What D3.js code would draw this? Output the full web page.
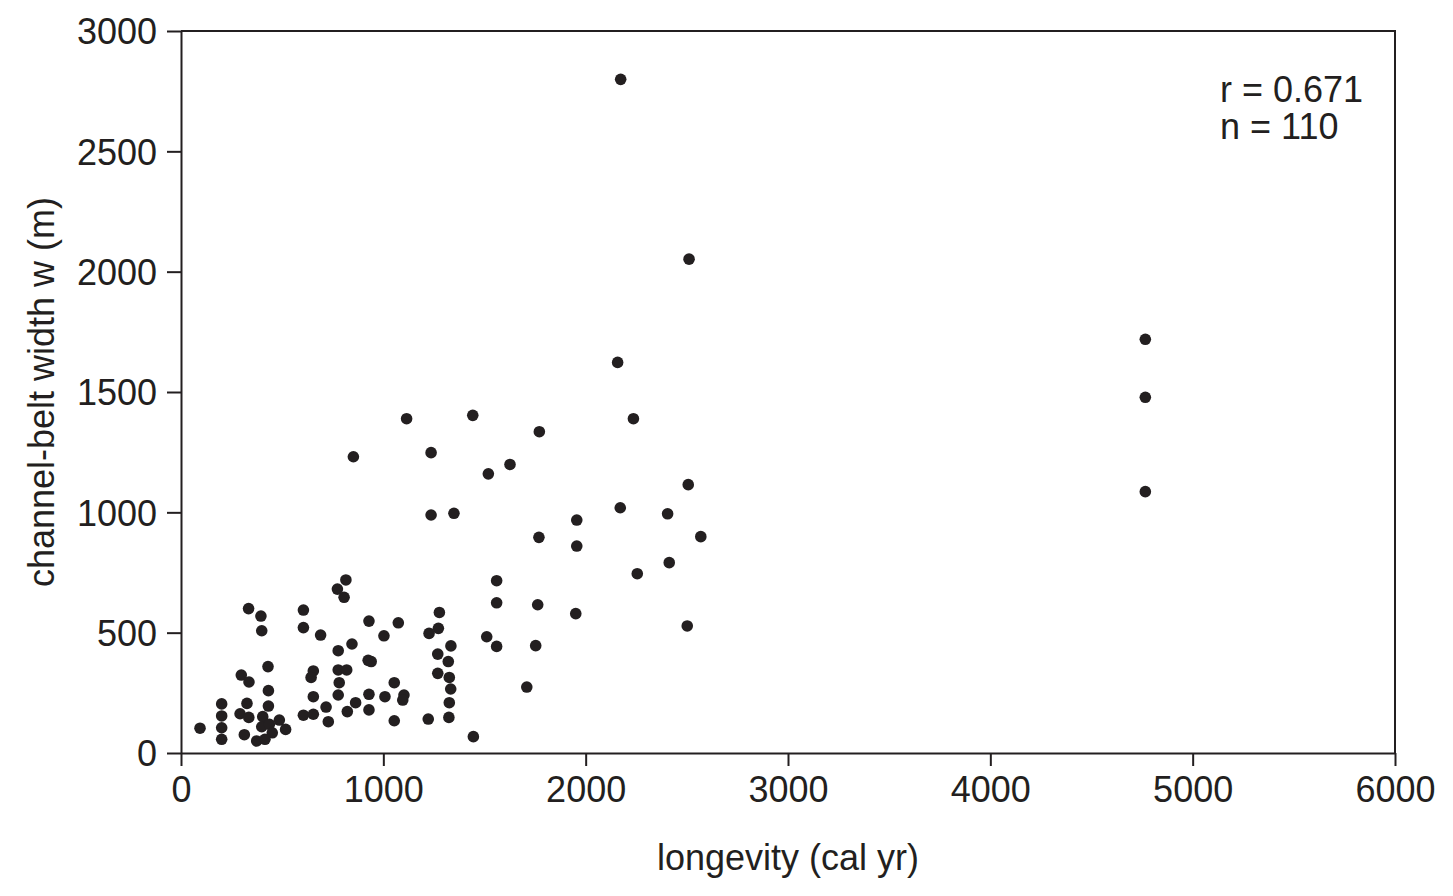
<!DOCTYPE html>
<html>
<head>
<meta charset="utf-8">
<script src="https://cdn.jsdelivr.net/npm/d3@7"></script>
<style>
  html, body { margin: 0; padding: 0; background: #fff; }
  svg { display: block; font-family: "Liberation Sans", Arial, sans-serif; }
</style>
</head>
<body>
<svg id="chart" width="1453" height="896"></svg>
<script>
// Longevity (cal yr) and channel-belt width (m) for each channel belt
const longevity = [
  94, 201, 201, 201, 201, 334, 395, 399, 298, 336,
  430, 432, 432, 326, 292, 335, 313, 404, 399, 437,
  451, 486, 517, 374, 415, 605, 605, 690, 654, 643,
  654, 605, 654, 717, 728, 773, 777, 777, 782, 777,
  815, 806, 929, 1074, 1003, 845, 925, 940, 819, 1054,
  929, 1008, 1102, 1096, 863, 822, 929, 1054, 1222, 1324,
  1326, 1333, 1326, 1321, 1334, 1269, 1269, 1277, 1272, 1226,
  1445, 1511, 2171, 2405, 1956, 1769, 1956, 2413, 2255, 1560,
  1560, 1763, 1951, 1560, 1753, 1709, 2173, 2511, 2158, 2236,
  4766, 4766, 4766, 1115, 1442, 1771, 1236, 1626, 1519, 852,
  1236, 1349, 2507, 2569, 2502
];
const beltWidth = [
  103, 204, 154, 105, 57, 600, 569, 508, 324, 295,
  359, 259, 195, 206, 163, 148, 76, 151, 109, 119,
  84, 137, 98, 50, 57, 594, 521, 490, 341, 314,
  234, 157, 161, 191, 130, 681, 425, 345, 292, 241,
  719, 647, 548, 541, 487, 453, 385, 380, 345, 292,
  244, 234, 241, 220, 209, 172, 179, 134, 141, 148,
  209, 266, 314, 380, 445, 411, 331, 584, 518, 497,
  68, 483, 1019, 994, 968, 896, 860, 791, 745, 716,
  624, 616, 579, 443, 446, 274, 2799, 2052, 1623, 1389,
  1719, 1478, 1086, 1389, 1403, 1335, 1248, 1199, 1160, 1231,
  989, 996, 1115, 899, 528
];
const xTicks = [0, 1000, 2000, 3000, 4000, 5000, 6000];
const yTicks = [0, 500, 1000, 1500, 2000, 2500, 3000];
const xTitle = "longevity (cal yr)";
const yTitle = "channel-belt width w (m)";
const statLines = ["r = 0.671", "n = 110"];

const ink = "#231f20";
const svg = d3.select("#chart");
const m = { left: 181, right: 1453 - 1395, top: 31, bottom: 896 - 753 };
const W = 1453, H = 896;

const x = d3.scaleLinear().domain([0, 6000]).range([m.left, W - m.right]);
const y = d3.scaleLinear().domain([0, 3000]).range([H - m.bottom, m.top]);

const fontSize = 36;

// Frame (top & right)
svg.append("path")
  .attr("d", `M${x(0)},${y(3000)}H${x(6000)}V${y(0)}`)
  .attr("fill", "none").attr("stroke", ink).attr("stroke-width", 2);

const xAxis = svg.append("g")
  .attr("transform", `translate(0,${y(0)})`)
  .call(d3.axisBottom(x).tickValues(xTicks).tickFormat(d3.format("d")).tickSize(13).tickPadding(10).tickSizeOuter(0));
const yAxis = svg.append("g")
  .attr("transform", `translate(${x(0)},0)`)
  .call(d3.axisLeft(y).tickValues(yTicks).tickFormat(d3.format("d")).tickSize(14).tickPadding(10).tickSizeOuter(0));

[xAxis, yAxis].forEach(g => {
  g.select(".domain").attr("stroke", ink).attr("stroke-width", 2);
  g.selectAll(".tick line").attr("stroke", ink).attr("stroke-width", 2);
  g.selectAll(".tick text")
    .attr("fill", ink)
    .style("font-size", fontSize + "px")
    .style("font-family", "'Liberation Sans', Arial, sans-serif");
});
yAxis.selectAll(".tick text").attr("dy", "0.36em");

// Points
svg.append("g").selectAll("circle")
  .data(longevity.map((d, i) => [d, beltWidth[i]]))
  .join("circle")
  .attr("cx", d => x(d[0]))
  .attr("cy", d => y(d[1]))
  .attr("r", 5.8)
  .attr("fill", ink);

// Axis titles
svg.append("text")
  .attr("x", (x(0) + x(6000)) / 2)
  .attr("y", 870)
  .attr("text-anchor", "middle")
  .attr("fill", ink)
  .style("font-size", fontSize + "px")
  .text(xTitle);

svg.append("text")
  .attr("transform", `translate(54,${(y(0) + y(3000)) / 2}) rotate(-90)`)
  .attr("text-anchor", "middle")
  .attr("fill", ink)
  .style("font-size", fontSize + "px")
  .text(yTitle);

// Statistics
svg.append("g").selectAll("text")
  .data(statLines)
  .join("text")
  .attr("x", 1220)
  .attr("y", (d, i) => 102 + i * 37)
  .attr("fill", ink)
  .style("font-size", "36px")
  .text(d => d);
</script>
</body>
</html>
